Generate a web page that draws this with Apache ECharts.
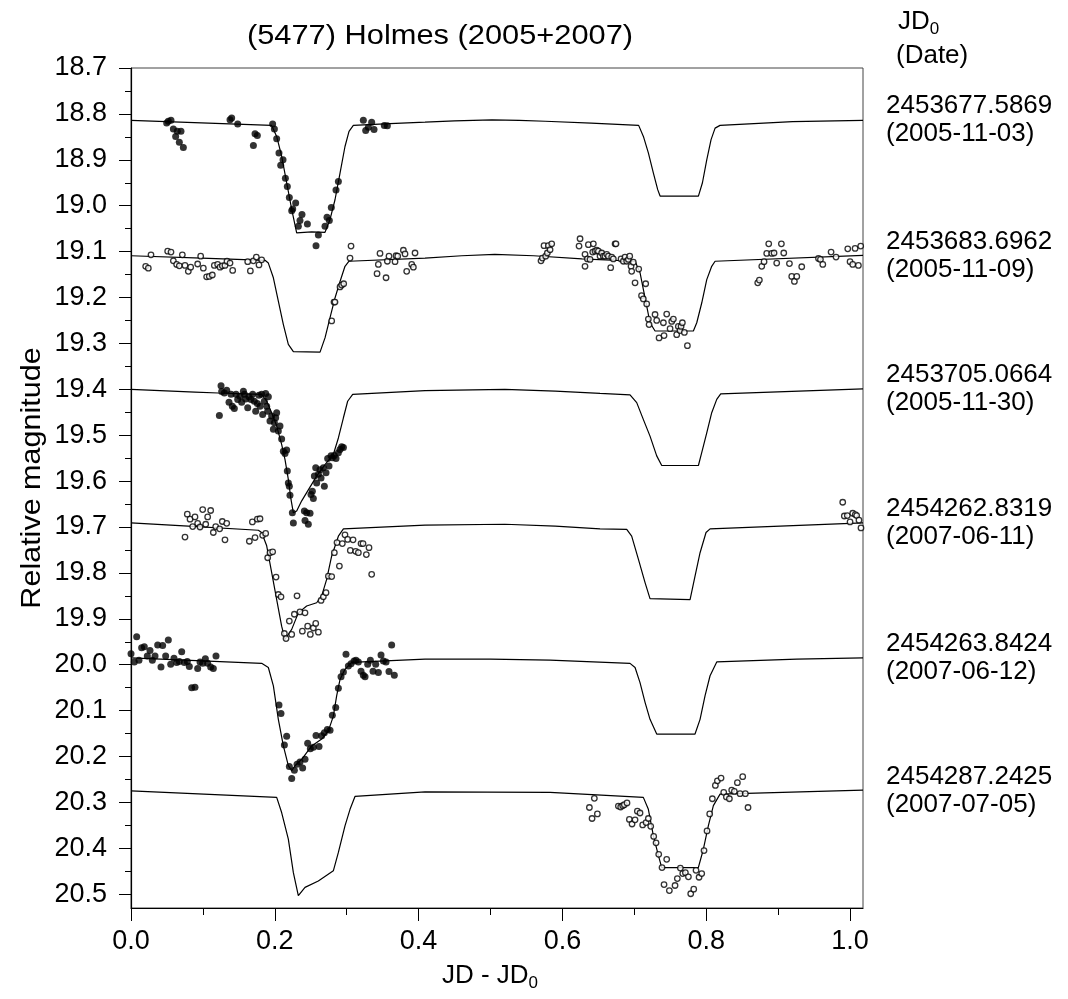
<!DOCTYPE html>
<html>
<head>
<meta charset="utf-8">
<script src="https://cdn.jsdelivr.net/npm/echarts@6/dist/echarts.min.js"></script>
<style>
html, body { margin: 0; padding: 0; background: #fff; }
#chart { width: 1068px; height: 999px; }
</style>
</head>
<body>
<div id="chart"></div>
<script>
// (5477) Holmes light curves, 2005+2007

const xMajorTicks = [0, 0.2, 0.4, 0.6, 0.8, 1.0];
const xMinorTicks = [0.1, 0.3, 0.5, 0.7, 0.9];
const yMajorTicks = [18.7, 18.8, 18.9, 19.0, 19.1, 19.2, 19.3, 19.4, 19.5, 19.6, 19.7, 19.8, 19.9, 20.0, 20.1, 20.2, 20.3, 20.4, 20.5];
const yMinorTicks = [18.75, 18.85, 18.95, 19.05, 19.15, 19.25, 19.35, 19.45, 19.55, 19.65, 19.75, 19.85, 19.95, 20.05, 20.15, 20.25, 20.35, 20.45];

const jd0Labels = ['2453677.5869', '2453683.6962', '2453705.0664', '2454262.8319', '2454263.8424', '2454287.2425'];
const dateLabels = ['(2005-11-03)', '(2005-11-09)', '(2005-11-30)', '(2007-06-11)', '(2007-06-12)', '(2007-07-05)'];

// model light curves [JD - JD0, mag]
const model1 = [[0,18.814],[0.1956,18.825],[0.2026,18.849],[0.2095,18.892],[0.2165,18.950],[0.2235,19.008],[0.2304,19.059],[0.2513,19.057],[0.2698,19.058],[0.2768,19.030],[0.2837,18.987],[0.2907,18.929],[0.2976,18.871],[0.3032,18.838],[0.3092,18.825],[0.36,18.821],[0.4089,18.818],[0.45,18.815],[0.502,18.813],[0.54,18.814],[0.576,18.816],[0.64,18.820],[0.706,18.825],[0.7126,18.849],[0.7195,18.885],[0.7265,18.929],[0.7325,18.965],[0.7358,18.979],[0.7891,18.979],[0.7947,18.950],[0.8007,18.900],[0.8067,18.856],[0.8123,18.831],[0.8192,18.825],[0.92,18.817],[1.018,18.814]];
const model2 = [[0,19.109],[0.0983,19.114],[0.1864,19.119],[0.1910,19.125],[0.1980,19.157],[0.2049,19.208],[0.2119,19.259],[0.2188,19.302],[0.2258,19.318],[0.2629,19.319],[0.2698,19.288],[0.2768,19.244],[0.2837,19.201],[0.2907,19.165],[0.2976,19.132],[0.3032,19.121],[0.4089,19.114],[0.46,19.109],[0.506,19.106],[0.56,19.109],[0.627,19.116],[0.701,19.121],[0.7079,19.146],[0.7126,19.183],[0.7172,19.219],[0.7218,19.255],[0.7288,19.273],[0.7821,19.273],[0.7868,19.255],[0.7937,19.212],[0.8007,19.161],[0.8076,19.132],[0.8123,19.121],[1.018,19.108]];
const model3 = [[0,19.400],[0.089,19.406],[0.1215,19.408],[0.1817,19.411],[0.1887,19.426],[0.1956,19.451],[0.2026,19.480],[0.2095,19.520],[0.2142,19.553],[0.2188,19.596],[0.2225,19.640],[0.2258,19.669],[0.2304,19.665],[0.2374,19.643],[0.2466,19.619],[0.2582,19.589],[0.2698,19.564],[0.2814,19.542],[0.2884,19.506],[0.2954,19.462],[0.3013,19.426],[0.3083,19.411],[0.4089,19.403],[0.52,19.400],[0.59,19.404],[0.6523,19.409],[0.694,19.412],[0.7033,19.429],[0.7126,19.466],[0.7218,19.502],[0.7311,19.545],[0.7381,19.566],[0.7891,19.566],[0.7937,19.538],[0.8007,19.495],[0.8076,19.451],[0.8146,19.422],[0.8201,19.410],[1.018,19.399]];
const model4 = [[0,19.691],[0.0797,19.698],[0.1771,19.707],[0.1817,19.712],[0.1887,19.741],[0.1956,19.799],[0.2026,19.858],[0.2095,19.916],[0.2142,19.945],[0.2235,19.923],[0.2327,19.887],[0.2443,19.872],[0.2582,19.865],[0.2652,19.850],[0.2721,19.814],[0.2791,19.763],[0.2884,19.720],[0.2954,19.704],[0.4089,19.696],[0.52,19.694],[0.59,19.698],[0.6523,19.704],[0.6894,19.705],[0.6963,19.720],[0.7056,19.770],[0.7149,19.821],[0.7218,19.856],[0.7775,19.858],[0.7844,19.807],[0.7914,19.756],[0.7997,19.712],[0.8053,19.704],[1.018,19.691]];
const model5 = [[0,19.985],[0.1817,19.997],[0.1910,20.006],[0.1980,20.046],[0.2049,20.119],[0.2119,20.177],[0.2188,20.220],[0.2235,20.231],[0.2281,20.220],[0.2374,20.206],[0.2513,20.177],[0.2652,20.162],[0.2745,20.144],[0.2814,20.112],[0.2860,20.068],[0.2907,20.032],[0.2976,20.010],[0.3068,19.995],[0.4089,19.988],[0.50,19.988],[0.5828,19.990],[0.6940,19.997],[0.7010,20.006],[0.7079,20.039],[0.7149,20.082],[0.7218,20.119],[0.7311,20.151],[0.7844,20.151],[0.7914,20.119],[0.7983,20.068],[0.8053,20.024],[0.8146,19.994],[0.9259,19.988],[1.018,19.985]];
const model6 = [[0,20.275],[0.2026,20.289],[0.2095,20.322],[0.2188,20.380],[0.2258,20.453],[0.2327,20.503],[0.2420,20.485],[0.2605,20.471],[0.2814,20.449],[0.2884,20.409],[0.2976,20.351],[0.3046,20.315],[0.3115,20.287],[0.4089,20.277],[0.5828,20.278],[0.7125,20.289],[0.7195,20.315],[0.7265,20.373],[0.7335,20.416],[0.7381,20.442],[0.7890,20.442],[0.7960,20.402],[0.8029,20.351],[0.8099,20.307],[0.8192,20.282],[1.018,20.273]];

// observations [JD - JD0, mag]
const obs1 = [[0.0496,18.820],[0.0519,18.816],[0.0556,18.814],[0.0589,18.833],[0.0621,18.849],[0.0644,18.838],[0.0672,18.862],[0.0695,18.838],[0.0728,18.873],[0.1377,18.813],[0.1400,18.809],[0.1484,18.822],[0.1702,18.869],[0.1725,18.843],[0.1757,18.847],[0.1970,18.822],[0.1994,18.833],[0.2026,18.854],[0.2058,18.885],[0.2082,18.912],[0.2114,18.900],[0.2147,18.940],[0.2174,18.958],[0.2202,18.982],[0.2235,19.011],[0.2249,19.007],[0.2290,18.994],[0.2327,19.045],[0.2350,19.032],[0.2378,19.019],[0.2453,19.040],[0.2573,19.087],[0.2606,19.064],[0.2698,19.045],[0.2726,19.025],[0.2758,19.032],[0.2786,19.004],[0.2851,18.966],[0.2884,18.947],[0.3231,18.814],[0.3264,18.836],[0.3301,18.829],[0.3347,18.818],[0.3380,18.834],[0.3523,18.825],[0.3565,18.826]];
const obs2 = [[0.0204,19.132],[0.0241,19.136],[0.0278,19.107],[0.0510,19.099],[0.0556,19.101],[0.0589,19.120],[0.0635,19.128],[0.0672,19.131],[0.0714,19.107],[0.0751,19.130],[0.0797,19.143],[0.0830,19.134],[0.0927,19.127],[0.0969,19.110],[0.1006,19.136],[0.1052,19.155],[0.1089,19.154],[0.1131,19.151],[0.1159,19.130],[0.1205,19.128],[0.1238,19.134],[0.1270,19.131],[0.1307,19.130],[0.1335,19.121],[0.1377,19.125],[0.1414,19.141],[0.1623,19.122],[0.1660,19.142],[0.1702,19.120],[0.1743,19.112],[0.1780,19.129],[0.1817,19.118],
  [0.2791,19.251],[0.2823,19.210],[0.2837,19.210],[0.2907,19.177],[0.2930,19.173],[0.2958,19.170],[0.3046,19.114],[0.3060,19.088],
  [0.3422,19.148],[0.3440,19.128],[0.3463,19.104],[0.3547,19.157],[0.3565,19.121],[0.3588,19.110],[0.3672,19.122],[0.3686,19.109],[0.3709,19.110],[0.3788,19.097],[0.3811,19.105],[0.3834,19.143],[0.3904,19.128],[0.3927,19.134],[0.3950,19.103],
  [0.5702,19.120],[0.5721,19.114],[0.5744,19.087],[0.5767,19.110],[0.5790,19.103],[0.5804,19.087],[0.5828,19.096],[0.5851,19.083],
  [0.6231,19.088],[0.6245,19.072],[0.6314,19.106],[0.6314,19.132],[0.6347,19.116],[0.6361,19.085],[0.6384,19.117],[0.6430,19.083],[0.6421,19.101],[0.6453,19.099],[0.6477,19.097],[0.6500,19.099],[0.6523,19.110],[0.6546,19.103],[0.6569,19.110],[0.6592,19.110],[0.6616,19.106],[0.6639,19.110],[0.6671,19.135],[0.6685,19.112],[0.6708,19.116],[0.6732,19.083],[0.6745,19.083],[0.6815,19.116],[0.6847,19.121],[0.6870,19.112],[0.6894,19.121],[0.6917,19.117],[0.6936,19.110],[0.6954,19.132],[0.6963,19.143],[0.6986,19.123],[0.7010,19.168],[0.7061,19.138],[0.7100,19.196],[0.7125,19.203],[0.7158,19.170],[0.7172,19.214],[0.7195,19.247],[0.7205,19.259],[0.7288,19.237],[0.7311,19.250],[0.7344,19.288],[0.7404,19.255],[0.7413,19.283],[0.7450,19.236],[0.7497,19.268],[0.7520,19.252],[0.7543,19.247],[0.7589,19.281],[0.7612,19.263],[0.7636,19.272],[0.7650,19.263],[0.7668,19.255],[0.7696,19.276],[0.7738,19.305],
  [0.8716,19.168],[0.8739,19.162],[0.8772,19.132],[0.8804,19.122],[0.8841,19.104],[0.8869,19.083],[0.8911,19.104],[0.8943,19.103],[0.8980,19.125],[0.9045,19.083],[0.9078,19.103],[0.9157,19.126],[0.9189,19.154],[0.9226,19.165],[0.9259,19.154],[0.9328,19.133],[0.9561,19.115],[0.9588,19.117],[0.9621,19.128],[0.9736,19.101],[0.9805,19.112],[0.9968,19.094],[1.0000,19.122],[1.0037,19.128],[1.0070,19.093],[1.0116,19.130],[1.0148,19.088]];
const obs3 = [[0.1252,19.392],[0.1229,19.457],[0.1261,19.405],[0.1298,19.408],[0.1331,19.402],[0.1363,19.428],[0.1391,19.411],[0.1409,19.437],[0.1437,19.442],[0.1461,19.411],[0.1484,19.422],[0.1516,19.415],[0.1539,19.428],[0.1563,19.404],[0.1577,19.411],[0.1595,19.421],[0.1623,19.440],[0.1641,19.416],[0.1669,19.422],[0.1692,19.411],[0.1715,19.426],[0.1734,19.448],[0.1757,19.431],[0.1780,19.413],[0.1794,19.437],[0.1817,19.411],[0.1831,19.455],[0.1854,19.426],[0.1873,19.409],[0.1887,19.437],[0.1901,19.448],[0.1910,19.416],[0.1933,19.469],[0.1956,19.458],[0.1980,19.487],[0.1994,19.473],[0.2012,19.462],[0.2026,19.451],[0.2049,19.491],[0.2072,19.480],[0.2095,19.508],[0.2119,19.535],[0.2142,19.540],[0.2165,19.532],[0.2174,19.578],[0.2188,19.604],[0.2202,19.611],[0.2211,19.631],[0.2244,19.669],[0.2258,19.691],[0.2411,19.665],[0.2420,19.686],[0.2443,19.669],[0.2466,19.694],[0.2490,19.670],[0.2503,19.629],[0.2522,19.622],[0.2536,19.638],[0.2550,19.589],[0.2569,19.571],[0.2582,19.604],[0.2606,19.585],[0.2629,19.575],[0.2643,19.593],[0.2675,19.571],[0.2689,19.611],[0.2712,19.582],[0.2735,19.551],[0.2754,19.567],[0.2782,19.545],[0.2800,19.549],[0.2828,19.544],[0.2851,19.551],[0.2884,19.538],[0.2907,19.531],[0.2930,19.525],[0.2954,19.527]];
const obs4 = [[0.0751,19.722],[0.0783,19.672],[0.0821,19.683],[0.0858,19.699],[0.0890,19.678],[0.0927,19.692],[0.0960,19.700],[0.0997,19.662],[0.1039,19.694],[0.1066,19.678],[0.1108,19.664],[0.1145,19.712],[0.1178,19.699],[0.1233,19.704],[0.1270,19.688],[0.1307,19.728],[0.1331,19.692],[0.1646,19.731],[0.1688,19.689],[0.1725,19.723],[0.1757,19.683],[0.1794,19.682],[0.1831,19.718],[0.1873,19.714],[0.1901,19.767],[0.1933,19.756],[0.1970,19.754],[0.2017,19.809],[0.2049,19.847],[0.2086,19.852],[0.2133,19.932],[0.2156,19.943],[0.2202,19.905],[0.2235,19.934],[0.2272,19.890],[0.2309,19.850],[0.2350,19.885],[0.2383,19.927],[0.2420,19.887],[0.2457,19.916],[0.2494,19.934],[0.2536,19.920],[0.2569,19.910],[0.2606,19.929],[0.2643,19.860],[0.2675,19.852],[0.2712,19.843],[0.2745,19.807],[0.2791,19.808],[0.2828,19.756],[0.2865,19.734],[0.2898,19.785],[0.2939,19.736],[0.2976,19.717],[0.3013,19.727],[0.3050,19.751],[0.3088,19.728],[0.3125,19.753],[0.3162,19.756],[0.3199,19.736],[0.3227,19.736],[0.3273,19.760],[0.3310,19.745],[0.3347,19.803],
  [0.9898,19.646],[0.9920,19.676],[0.9962,19.675],[1.0000,19.689],[1.0037,19.670],[1.0073,19.673],[1.0092,19.675],[1.0124,19.685],[1.0152,19.702]];
const obs5 = [[0.0000,19.976],[0.0046,19.994],[0.0079,19.939],[0.0111,19.990],[0.0148,19.963],[0.0185,19.961],[0.0227,19.981],[0.0264,19.969],[0.0297,19.990],[0.0334,19.981],[0.0371,19.957],[0.0417,20.005],[0.0440,19.958],[0.0482,19.981],[0.0519,19.946],[0.0552,19.999],[0.0598,19.986],[0.0635,19.995],[0.0672,19.993],[0.0705,19.972],[0.0742,19.995],[0.0783,19.993],[0.0811,20.004],[0.0844,20.050],[0.0890,20.049],[0.0927,20.008],[0.0960,19.994],[0.0997,19.997],[0.1034,19.987],[0.1066,19.997],[0.1108,20.005],[0.1145,20.008],[0.1182,19.981],
  [0.2058,20.088],[0.2086,20.106],[0.2133,20.175],[0.2165,20.156],[0.2202,20.222],[0.2235,20.248],[0.2272,20.230],[0.2309,20.217],[0.2350,20.212],[0.2387,20.225],[0.2420,20.206],[0.2457,20.171],[0.2494,20.183],[0.2536,20.180],[0.2573,20.154],[0.2615,20.178],[0.2652,20.155],[0.2689,20.148],[0.2731,20.141],[0.2768,20.143],[0.2800,20.110],[0.2847,20.093],[0.2884,20.051],[0.2921,20.026],[0.2954,20.016],[0.2990,19.977],[0.3023,20.003],[0.3060,19.998],[0.3102,19.992],[0.3129,19.990],[0.3162,19.994],[0.3199,20.014],[0.3231,20.023],[0.3255,20.026],[0.3292,19.999],[0.3329,19.990],[0.3366,20.014],[0.3403,19.999],[0.3440,20.017],[0.3477,19.979],[0.3510,19.992],[0.3547,19.994],[0.3588,20.015],[0.3625,19.957],[0.3662,20.023]];
const obs6 = [[0.6375,20.311],[0.6412,20.335],[0.6444,20.291],[0.6486,20.325],[0.6778,20.308],[0.6810,20.310],[0.6838,20.307],[0.6861,20.305],[0.6898,20.301],[0.6931,20.337],[0.6968,20.347],[0.7010,20.338],[0.7042,20.319],[0.7079,20.323],[0.7116,20.349],[0.7163,20.344],[0.7195,20.335],[0.7228,20.352],[0.7269,20.374],[0.7302,20.388],[0.7339,20.413],[0.7385,20.442],[0.7413,20.479],[0.7450,20.424],[0.7487,20.492],[0.7566,20.481],[0.7598,20.466],[0.7640,20.443],[0.7673,20.455],[0.7710,20.453],[0.7752,20.462],[0.7784,20.499],[0.7826,20.489],[0.7858,20.448],[0.7900,20.463],[0.7937,20.455],[0.7969,20.405],[0.8011,20.362],[0.8048,20.325],[0.8085,20.292],[0.8127,20.263],[0.8155,20.253],[0.8206,20.247],[0.8243,20.278],[0.8280,20.288],[0.8322,20.292],[0.8354,20.273],[0.8391,20.276],[0.8433,20.257],[0.8470,20.281],[0.8507,20.244],[0.8544,20.281],[0.8581,20.311]];

const models = [model1, model2, model3, model4, model5, model6];
const observations = [obs1, obs2, obs3, obs4, obs5, obs6];

const FONT = '"Liberation Sans", Arial, Helvetica, sans-serif';
const chart = echarts.init(document.getElementById('chart'));

const series = [];
models.forEach((m, i) => {
    series.push({
        type: 'line',
        data: m,
        showSymbol: false,
        silent: true,
        z: 2,
        lineStyle: { color: '#000', width: 1.2 }
    });
});
observations.forEach((o, i) => {
    const filled = i % 2 === 0;
    series.push({
        type: 'scatter',
        data: o,
        symbol: 'circle',
        symbolSize: filled ? 7 : 5.5,
        z: 3,
        itemStyle: filled
            ? { color: '#000' }
            : { color: '#fff', borderColor: '#000', borderWidth: 1.3 }
    });
});

const option = {
    backgroundColor: '#fff',
    animation: false,
    grid: {
        left: 131,
        top: 68,
        right: 205,
        bottom: 91,
        show: true,
        borderColor: '#444',
        borderWidth: 1
    },
    xAxis: [
        {
            type: 'value',
            min: 0,
            max: 1.018,
            position: 'bottom',
            splitLine: { show: false },
            axisLine: { lineStyle: { color: '#000', width: 1.2 } },
            axisTick: { customValues: xMajorTicks, length: 13, lineStyle: { color: '#000' } },
            axisLabel: {
                customValues: xMajorTicks,
                formatter: v => v.toFixed(1),
                color: '#000',
                fontFamily: FONT,
                fontSize: 27,
                margin: 20
            }
        },
        {
            type: 'value',
            min: 0,
            max: 1.018,
            position: 'bottom',
            splitLine: { show: false },
            axisLine: { show: false },
            axisTick: { customValues: xMinorTicks, length: 7, lineStyle: { color: '#000' } },
            axisLabel: { show: false }
        }
    ],
    yAxis: [
        {
            type: 'value',
            inverse: true,
            min: 18.7,
            max: 20.53,
            position: 'left',
            splitLine: { show: false },
            axisLine: { lineStyle: { color: '#000', width: 1.2 } },
            axisTick: { customValues: yMajorTicks, length: 12, lineStyle: { color: '#000' } },
            axisLabel: {
                customValues: yMajorTicks,
                formatter: v => v.toFixed(1),
                color: '#000',
                fontFamily: FONT,
                fontSize: 27,
                margin: 24
            }
        },
        {
            type: 'value',
            inverse: true,
            min: 18.7,
            max: 20.53,
            position: 'left',
            splitLine: { show: false },
            axisLine: { show: false },
            axisTick: { customValues: yMinorTicks, length: 6, lineStyle: { color: '#000' } },
            axisLabel: { show: false }
        }
    ],
    series: series
};
chart.setOption(option);

// texts: title, axis names, JD0 labels at each curve's base level
const graphics = [
    {
        type: 'text', x: 440, y: 36, scaleX: 1.1,
        style: { text: '(5477) Holmes (2005+2007)', font: '28px ' + FONT, fill: '#000', align: 'center', verticalAlign: 'middle' }
    },
    {
        type: 'text', x: 898, y: 22,
        style: {
            text: '{a|JD}{s|0}', fill: '#000', align: 'left', verticalAlign: 'middle',
            rich: { a: { font: '26px ' + FONT, fill: '#000' }, s: { font: '17px ' + FONT, fill: '#000', padding: [14, 0, 0, 0] } }
        }
    },
    {
        type: 'text', x: 896, y: 56,
        style: { text: '(Date)', font: '26px ' + FONT, fill: '#000', align: 'left', verticalAlign: 'middle' }
    },
    {
        type: 'text', x: 32, y: 478, rotation: Math.PI / 2, scaleX: 1.09,
        style: { text: 'Relative magnitude', font: '28px ' + FONT, fill: '#000', align: 'center', verticalAlign: 'middle' }
    },
    {
        type: 'text', x: 490, y: 976,
        style: {
            text: '{a|JD - JD}{s|0}', fill: '#000', align: 'center', verticalAlign: 'middle',
            rich: { a: { font: '26px ' + FONT, fill: '#000' }, s: { font: '17px ' + FONT, fill: '#000', padding: [14, 0, 0, 0] } }
        }
    }
];
models.forEach((m, i) => {
    const yc = chart.convertToPixel({ yAxisIndex: 0 }, m[0][1]);
    graphics.push({
        type: 'text', x: 886, y: yc - 14,
        style: { text: jd0Labels[i], font: '26px ' + FONT, fill: '#000', align: 'left', verticalAlign: 'middle' }
    });
    graphics.push({
        type: 'text', x: 886, y: yc + 14,
        style: { text: dateLabels[i], font: '26px ' + FONT, fill: '#000', align: 'left', verticalAlign: 'middle' }
    });
});
chart.setOption({ graphic: graphics });
</script>
</body>
</html>
